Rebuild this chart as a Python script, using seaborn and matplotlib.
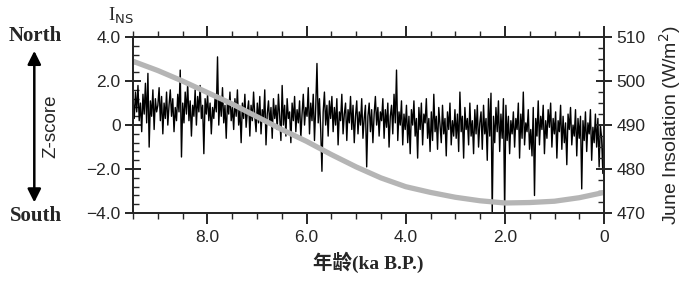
import numpy as np
import pandas as pd
import matplotlib
matplotlib.use('Agg')
import matplotlib.pyplot as plt
import seaborn as sns
from matplotlib.ticker import MultipleLocator, FixedLocator

# Z-score (I_NS), 25-yr steps from 9.5 ka to 0 ka
zscore = [
    1.2, 0.3, 1.5, 0.6, 1.8, 0.2, 1.0, -0.3, 1.4, 0.5, 1.9, 0.1, 2.35, -1.0, 1.1, 0.4, 1.6, -0.2, 1.2, 0.6,
    0.9, 1.7, 0.2, 1.3, -0.4, 1.0, 0.3, 1.5, 0.0, 0.9, 1.6, 0.4, 1.2, -0.3, 0.8, 0.2, 1.4, 0.6, 2.5, -1.45,
    1.0, 0.1, 1.5, 0.5, 1.9, 0.2, 1.1, -0.5, 0.9, 0.4, 1.6, 0.0, 1.3, 0.6, 1.8, 0.3, 0.9, -1.3, 1.2, 0.5,
    1.4, 0.2, 1.0, -0.4, 0.8, 0.3, 1.2, 0.6, 3.1, 0.0, 1.3, 0.4, 1.7, 0.1, 0.9, -0.6, 1.1, 0.5, 1.5, 0.2,
    0.8, -0.2, 1.2, 0.4, 1.6, 0.0, 0.7, -0.8, 1.0, 0.3, 1.4, -0.1, 0.6, 1.1, -0.5, 0.9, 0.2, 1.5, 0.4, -0.3,
    1.0, 0.1, 1.3, -0.4, 0.7, 0.2, 1.6, -0.9, 0.5, 1.1, 0.0, 0.8, -0.6, 1.2, 0.3, 0.9, -0.2, 1.4, 0.4, -0.7,
    1.8, 0.0, 0.9, -0.5, 1.2, 0.3, 0.6, -0.8, 1.0, 0.2, 1.3, -0.3, 0.7, 0.1, 1.1, -0.6, 0.5, 1.4, 0.0, 0.8,
    0.4, 1.7, -0.4, 1.0, 0.2, 1.4, -0.7, 0.8, 2.8, 0.1, 1.2, -0.2, -2.1, 0.6, 1.5, 0.0, 0.9, -0.5, 1.1, 0.3,
    1.3, -0.3, 0.8, 0.0, 1.2, -0.9, 0.6, 0.2, 1.4, -0.4, 0.5, 1.0, -0.7, 0.7, 0.1, 1.3, -0.2, 0.9, -0.8, 0.4,
    1.1, -0.4, 0.6, 0.0, 1.2, -0.6, 0.3, 0.9, -1.9, 0.4, 1.0, -0.3, 0.7, -0.8, 0.5, 1.3, 0.0, 0.8, -0.5, 0.6,
    0.2, 1.2, -0.6, 0.7, -0.1, 1.0, -1.0, 0.4, 0.9, -0.4, 1.4, 0.1, 2.5, -0.7, 0.6, 0.0, 1.1, -0.9, 0.5, -0.2,
    0.9, -0.8, 0.4, -1.3, 0.7, 0.0, 1.1, -0.5, 0.3, -1.5, 0.8, -0.2, 1.0, -0.9, 0.5, 0.1, 1.2, -0.6, 0.3, -1.2,
    0.6, -0.7, 1.4, -0.3, 0.4, -1.1, 0.8, 0.0, -0.8, 0.9, -0.4, 0.3, -1.4, 0.6, -0.2, 1.0, -0.9, 0.2, -0.5, 0.7,
    -0.6, 0.5, -1.2, 1.5, -0.3, 0.4, -1.5, 0.8, -0.2, 0.3, -0.9, 1.0, -0.5, 0.2, -1.3, 0.7, -0.4, 0.9, -1.0, 0.1,
    0.6, -1.1, 0.9, -0.4, 0.3, -1.6, 1.2, -0.5, 1.45, -4.0, 0.4, -0.8, 0.8, -0.3, 1.1, -1.2, 0.5, -0.6, 1.2, -4.0,
    0.9, -0.7, 0.4, -1.3, 0.2, -0.4, 0.6, -1.0, 0.3, -0.2, 1.0, -1.5, 0.5, -0.6, 1.5, -0.9, 0.1, -0.3, 0.7, -1.1,
    -0.2, -1.4, 0.8, -3.2, 0.3, -0.5, 1.1, -0.9, 0.4, -0.2, 0.9, -1.3, 0.2, -0.6, 0.7, -0.1, 1.0, -1.0, 0.3, -0.4,
    0.6, -1.5, 0.2, -0.3, 0.9, -1.1, 0.4, -0.8, 0.1, -1.8, 0.5, -0.2, 0.8, -0.9, 0.0, -0.5, 0.7, -1.4, 0.3, -0.6,
    0.4, -2.9, 0.2, -0.7, 0.6, -1.2, 0.1, -0.4, 0.7, -1.6, -0.1, -0.8, 0.5, -1.0, 0.3, -1.9, 0.0, -0.6, -2.2, 0.8,
]
z_age = np.linspace(9.5, 0.0, len(zscore))

# June insolation (W/m2)
ins_age = [9.5, 9.0, 8.5, 8.0, 7.5, 7.0, 6.5, 6.0, 5.5, 5.0, 4.5, 4.0, 3.5, 3.0, 2.5, 2.0, 1.5, 1.0, 0.5, 0.0]
insolation = [504.5, 502.4, 500.0, 497.4, 494.8, 491.9, 489.0, 486.3, 483.3, 480.5, 478.0, 476.0,
              474.7, 473.6, 472.8, 472.3, 472.4, 472.7, 473.5, 474.7]

x_ticks = [8.0, 6.0, 4.0, 2.0, 0.0]
x_labels = ['8.0', '6.0', '4.0', '2.0', '0']
z_ticks = [4.0, 2.0, 0.0, -2.0, -4.0]
z_labels = ['4.0', '2.0', '0', '\u22122.0', '\u22124.0']
ins_ticks = [470, 480, 490, 500, 510]

df_z = pd.DataFrame({'age': z_age, 'z': zscore})
df_i = pd.DataFrame({'age': ins_age, 'ins': insolation})

sns.set_style('ticks')
plt.rcParams['font.family'] = ['Liberation Sans', 'DejaVu Sans']
plt.rcParams['axes.linewidth'] = 1.4

fig = plt.figure(figsize=(7, 2.83), dpi=100)
ax = fig.add_axes([0.19, 0.247, 0.673, 0.622])
ax2 = ax.twinx()

sns.lineplot(data=df_z, x='age', y='z', ax=ax, color='black', linewidth=1.0, sort=False)
sns.lineplot(data=df_i, x='age', y='ins', ax=ax2, color='#b5b5b5', linewidth=3.8, sort=False)

ax.set_xlim(9.5, 0)
ax.set_ylim(-4, 4)
ax2.set_ylim(470, 510)

ax.xaxis.set_major_locator(FixedLocator(x_ticks))
ax.set_xticklabels(x_labels)
ax.xaxis.set_minor_locator(MultipleLocator(0.5))
ax.set_yticks(z_ticks)
ax.set_yticklabels(z_labels)
ax.yaxis.set_minor_locator(MultipleLocator(0.4))
ax2.set_yticks(ins_ticks)
ax2.yaxis.set_minor_locator(MultipleLocator(2.5))

ax.tick_params(axis='x', which='major', direction='out', length=8, width=1.4, top=True,
               labelsize=12.5, pad=4)
ax.tick_params(axis='x', which='minor', direction='out', length=4, width=1.0, top=True)
ax.tick_params(axis='y', which='major', direction='inout', length=11, width=1.4, labelsize=12.5)
ax.tick_params(axis='y', which='minor', direction='in', length=4, width=1.0)
ax2.tick_params(axis='y', which='major', direction='inout', length=11, width=1.4, labelsize=12.5)
ax2.tick_params(axis='y', which='minor', direction='in', length=4, width=1.0)

ax.set_xlabel('年龄(ka B.P.)', family=['Liberation Serif', 'Noto Sans CJK SC'],
              fontweight='bold', fontsize=14, labelpad=5)
ax.set_ylabel('')
ax2.set_ylabel('June Insolation (W/m$^2$)', fontsize=14, labelpad=8)

fig.text(0.155, 0.945, r'I$_\mathrm{NS}$', family='Liberation Serif', fontsize=13.5,
         ha='left', va='center')
fig.text(0.051, 0.872, 'North', family='Liberation Serif', fontweight='bold', fontsize=15,
         ha='center', va='center')
fig.text(0.051, 0.235, 'South', family='Liberation Serif', fontweight='bold', fontsize=15,
         ha='center', va='center')
fig.text(0.072, 0.555, 'Z-score', fontsize=13.5, rotation=90, ha='center', va='center')
ax.annotate('', xy=(0.049, 0.83), xytext=(0.049, 0.275), xycoords='figure fraction',
            arrowprops=dict(arrowstyle='<|-|>', color='black', lw=1.8, mutation_scale=20))

fig.savefig('out.png', dpi=100)
